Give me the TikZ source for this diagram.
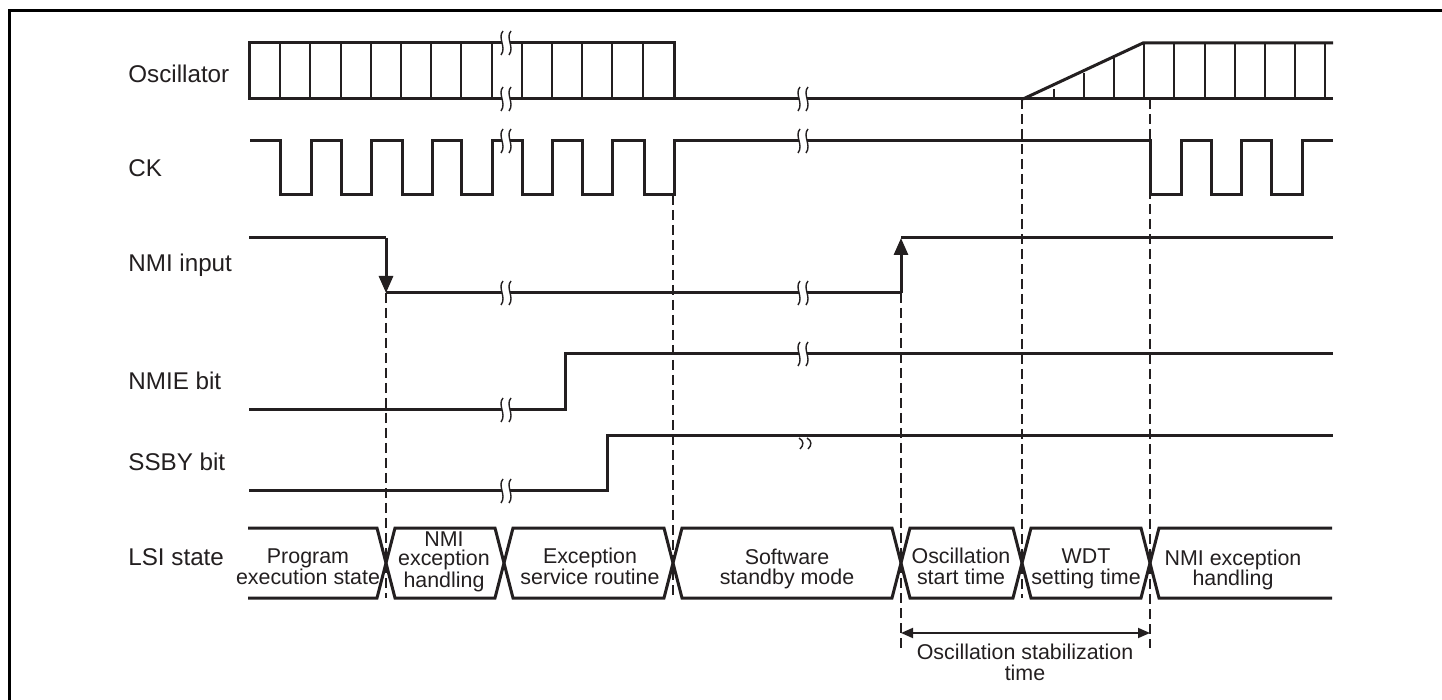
\documentclass[tikz,border=0pt]{standalone}
\usepackage{fontspec}
\setmainfont{Liberation Sans}
\usetikzlibrary{arrows.meta}
\definecolor{ink}{HTML}{231F20}
\newcommand{\brkmark}[2]{%
  \fill[white] (#1-4,#2-3) rectangle (#1+4,#2+3);
  \draw[brkline] (#1-3,#2-12) .. controls (#1-9,#2-5) and (#1+1,#2+4) .. (#1-5,#2+12);
  \draw[brkline] (#1+5,#2-12) .. controls (#1-1,#2-5) and (#1+9,#2+4) .. (#1+3,#2+12);
}
\tikzset{
  sig/.style={draw=ink,line width=1.5pt,line join=miter,line cap=butt},
  thinl/.style={draw=ink,line width=.7pt},
  brkline/.style={draw=ink,line width=.7pt},
  dashl/.style={draw=ink,line width=.8pt,dash pattern=on 5pt off 2.5pt},
  lab/.style={anchor=west,inner sep=0pt,text=ink,font=\fontsize{12.1}{14}\selectfont},
  st/.style={align=center,inner sep=0pt,text=ink,font=\fontsize{10.7}{10.4}\selectfont},
  st3/.style={align=center,inner sep=0pt,text=ink,font=\fontsize{10.7}{9.5}\selectfont},
  dimarrow/.style={draw=ink,line width=.9pt,{Triangle[length=6pt,width=5pt]}-{Triangle[length=6pt,width=5pt]}}
}
\begin{document}
\begin{tikzpicture}[x=.5pt,y=-.5pt]
\useasboundingbox (0,0) rectangle (1442,700);
\fill[white] (0,0) rectangle (1442,700);
\draw[black,line width=1.5pt] (1442,10.5) -- (9.5,10.5) -- (9.5,700);
% dashed guides
\coordinate (a0) at (386,293); \coordinate (a1) at (386,598);
\coordinate (c0) at (673,195); \coordinate (c1) at (673,598);
\coordinate (d0) at (901,293); \coordinate (d1) at (901,648);
\coordinate (e0) at (1022,99); \coordinate (e1) at (1022,598);
\coordinate (f0) at (1150,99); \coordinate (f1) at (1150,648);
\foreach \p/\q in {a0/a1,c0/c1,d0/d1,e0/e1,f0/f1}{\draw[dashl] (\p) -- (\q);}
% oscillator ticks
\foreach \x in {280,310,341,371,401,431,461,492,522,552,582,612,643,1144,1174,1205,1235,1265,1295,1325}{\draw[thinl] (\x,43) -- (\x,99);}
\foreach \x/\y in {1054/89,1084/73,1114/58}{\draw[thinl] (\x,\y) -- (\x,99);}
% oscillator
\draw[sig] (249,99) -- (249,43) -- (674,43) -- (674,99);
\draw[sig] (248,99) -- (1333,99);
\draw[sig] (1023,99) -- (1143,43) -- (1333,43);
% CK
\draw[sig] (250,141) -- (280,141) -- (280,195) -- (311,195) -- (311,141) -- (341,141) -- (341,195) -- (371,195) -- (371,141) -- (402,141) -- (402,195) -- (432,195) -- (432,141) -- (461,141) -- (461,195) -- (492,195) -- (492,141) -- (522,141) -- (522,195) -- (552,195) -- (552,141) -- (582,141) -- (582,195) -- (612,195) -- (612,141) -- (644,141) -- (644,195) -- (674,195) -- (674,141) -- (1150,141) -- (1150,195) -- (1181,195) -- (1181,141) -- (1211,141) -- (1211,195) -- (1241,195) -- (1241,141) -- (1271,141) -- (1271,195) -- (1302,195) -- (1302,141) -- (1333,141);
% NMI input
\coordinate (n0) at (386,238); \coordinate (n1) at (386,293);
\coordinate (n2) at (901,293); \coordinate (n3) at (901,238);
\draw[sig] (249,238) -- (n0);
\draw[sig,-{Triangle[length=8.5pt,width=7pt]}] (n0) -- (n1);
\draw[sig] (n1) -- (n2);
\draw[sig,-{Triangle[length=8.5pt,width=7pt]}] (n2) -- (n3);
\draw[sig] (n3) -- (1333,238);
% NMIE, SSBY
\draw[sig] (249,410) -- (565,410) -- (565,354) -- (1333,354);
\draw[sig] (249,491) -- (607,491) -- (607,436) -- (1333,436);
% LSI state
\draw[sig] (248,528) -- (377,528) -- (395,598) -- (495,598) -- (513,528) -- (664,528) -- (682,598) -- (892,598) -- (910,528) -- (1013,528) -- (1031,598) -- (1141,598) -- (1159,528) -- (1332,528);
\draw[sig] (248,598) -- (377,598) -- (395,528) -- (495,528) -- (513,598) -- (664,598) -- (682,528) -- (892,528) -- (910,598) -- (1013,598) -- (1031,528) -- (1141,528) -- (1159,598) -- (1332,598);
% breaks
\foreach \x/\y in {506/43,506/99,506/141,803/99,803/141,506/293,803/293,506/410,803/354,506/491}{\brkmark{\x}{\y}}
\draw[brkline] (799,438) .. controls (804,441) and (804,445) .. (800,449);
\draw[brkline] (807,438) .. controls (812,441) and (812,445) .. (808,449);
% dimension
\coordinate (m0) at (901,633); \coordinate (m1) at (1150,633);
\draw[dimarrow] (m0) -- (m1);
% labels
\node[lab] (l1) at (128,74) {Oscillator};
\node[lab] (l2) at (128,168) {CK};
\node[lab] (l3) at (128,265) {NMI input};
\node[lab] (l4) at (128,381) {NMIE bit};
\node[lab] (l5) at (128,462) {SSBY bit};
\node[lab] (l6) at (128,557) {LSI state};
\node[st] (s1) at (308,567) {Program\\execution state};
\node[st3] (s2) at (444,562) {NMI\\exception\\handling};
\node[st] (s3) at (590,566) {Exception\\service routine};
\node[st] (s4) at (787,569) {Software\\standby mode};
\node[st] (s5) at (961,566) {Oscillation\\start time};
\node[st] (s6) at (1086,569) {WDT\\setting time};
\node[st] (s7) at (1233,570) {NMI exception\\handling};
\node[st] (s8) at (1025,662) {Oscillation stabilization\\time};
\end{tikzpicture}
\end{document}
